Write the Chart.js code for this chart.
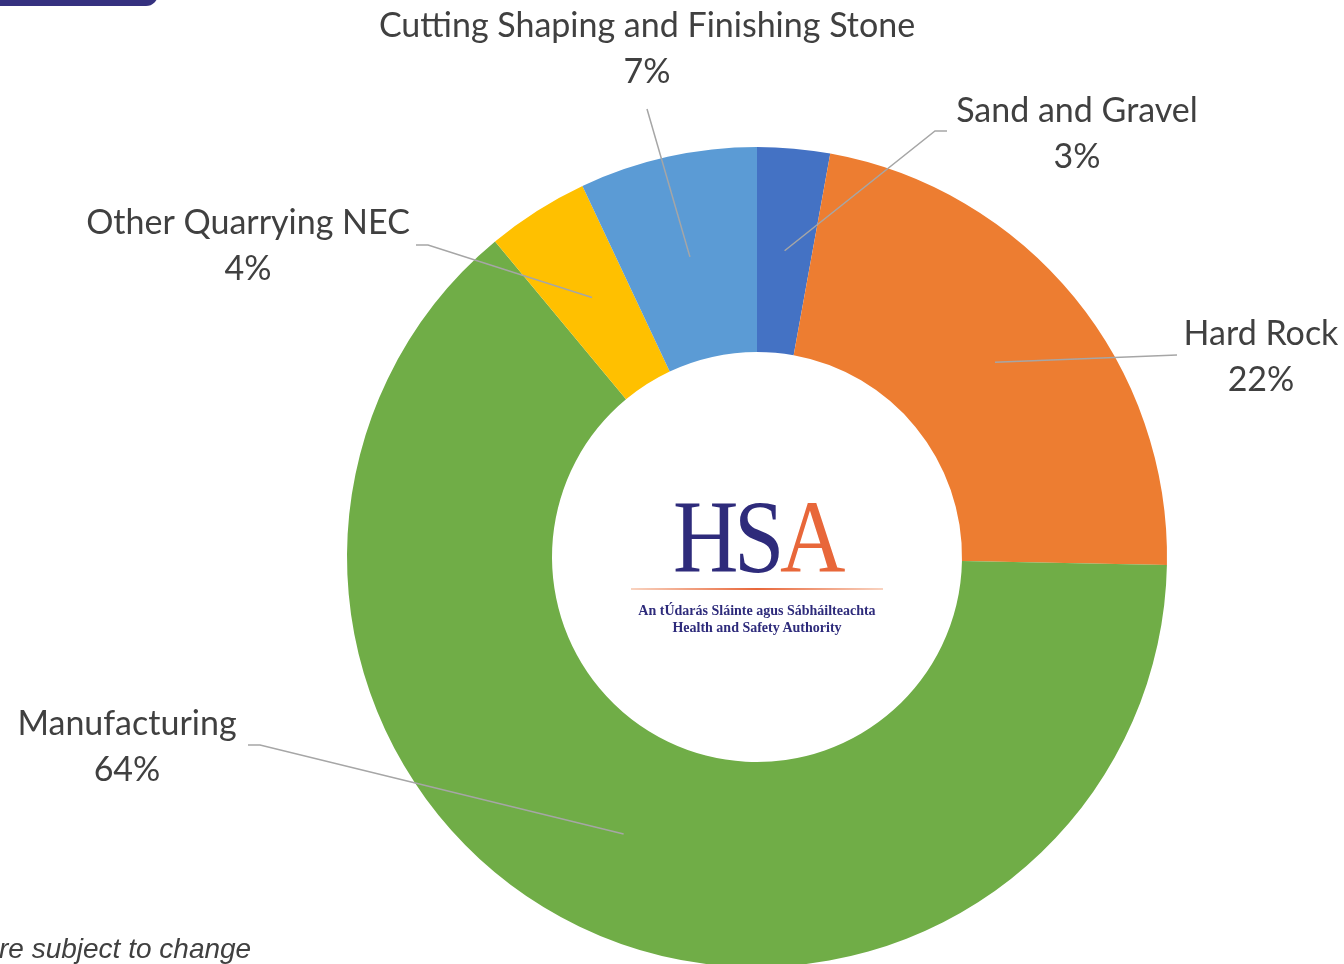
<!DOCTYPE html>
<html>
<head>
<meta charset="utf-8">
<script src="https://cdn.jsdelivr.net/npm/chart.js@4.4.1/dist/chart.umd.min.js"></script>
<style>
  html, body { margin: 0; padding: 0; background: #fff; overflow: hidden; width: 1344px; height: 964px; }
  #wrap { position: absolute; left: 0; top: 0; width: 1344px; height: 980px; }
  #topBar { position: absolute; left: 0; top: -10px; width: 158px; height: 16px; background: #35317f; border-bottom-right-radius: 12px; }
  #note { position: absolute; left: -1px; top: 933px; font: italic 28px "Liberation Sans", Arial, sans-serif; color: #404040; white-space: nowrap; }
  #logo { position: absolute; left: 607px; top: 487px; width: 300px; text-align: center; pointer-events: none; }
  #hsa { font-family: "Liberation Serif", "Times New Roman", serif; font-size: 103px; line-height: 100px; height: 100px; letter-spacing: -5px; transform: scaleX(0.88); color: #2e2b7b; }
  #hsa .a { color: #e8673a; }
  #rule { margin: 1px auto 0 auto; width: 252px; height: 2px; background: linear-gradient(to right, #f9d3c0, #e8673a 50%, #f9d3c0); }
  .sub { font: bold 14px "Liberation Serif", "Times New Roman", serif; color: #2e2b7b; line-height: 17px; }
</style>
</head>
<body>
<div id="topBar"></div>
<div id="wrap"><canvas id="graficoSetores"></canvas></div>
<div id="logo">
  <div id="hsa">HS<span class="a">A</span></div>
  <div id="rule"></div>
  <div class="sub" style="margin-top:12px">An tÚdarás Sláinte agus Sábháilteachta</div>
  <div class="sub">Health and Safety Authority</div>
</div>
<div id="note">re subject to change</div>
<script>
// categorias e valores (percentagens)
const categories = ['Sand and Gravel', 'Hard Rock', 'Manufacturing', 'Other Quarrying NEC', 'Cutting Shaping and Finishing Stone'];
const shares = [2.86, 22.45, 63.66, 4.03, 7.0];
const sliceColours = ['#4472c4', '#ed7d31', '#70ad47', '#ffc000', '#5b9bd5'];

// posição dos rótulos e das linhas de chamada (só layout)
const labelLayout = [
    { x: 1077, y: 122, path: [[935, 131], [947, 131]] },
    { x: 1261, y: 345, path: [[1177, 355]] },
    { x: 127, y: 735, path: [[260, 745], [248, 745]] },
    { x: 248, y: 234, path: [[428, 245], [416, 245]] },
    { x: 647, y: 37, path: [[647, 109]] }
];

const labelFont = '34px Lato, "Open Sans", sans-serif';
const lineGap = 46;

const calloutPlugin = {
    id: 'callouts',
    afterDatasetsDraw(chart) {
        const ctx = chart.ctx;
        const meta = chart.getDatasetMeta(0);
        const total = shares.reduce((a, b) => a + b, 0);
        ctx.save();
        meta.data.forEach(function (arc, i) {
            const lay = labelLayout[i];
            const p = arc.tooltipPosition();
            // linha de chamada
            ctx.beginPath();
            ctx.strokeStyle = '#a6a6a6';
            ctx.lineWidth = 1.5;
            ctx.moveTo(p.x, p.y);
            lay.path.forEach(pt => ctx.lineTo(pt[0], pt[1]));
            ctx.stroke();
            // texto
            ctx.fillStyle = '#404040';
            ctx.font = labelFont;
            ctx.textAlign = 'center';
            ctx.textBaseline = 'alphabetic';
            ctx.fillText(categories[i], lay.x, lay.y);
            ctx.fillText(Math.round(shares[i] / total * 100) + '%', lay.x, lay.y + lineGap);
        });
        ctx.restore();
    }
};

document.addEventListener('DOMContentLoaded', function () {
    const ctxSetores = document.getElementById('graficoSetores');
    new Chart(ctxSetores, {
        type: 'doughnut',
        data: {
            labels: categories,
            datasets: [{
                data: shares,
                backgroundColor: sliceColours,
                borderWidth: 0
            }]
        },
        options: {
            responsive: true,
            maintainAspectRatio: false,
            animation: false,
            cutout: '50%',
            layout: { padding: { top: 147, bottom: 13, left: 347, right: 177 } },
            plugins: {
                legend: { display: false },
                tooltip: { enabled: false }
            }
        },
        plugins: [calloutPlugin]
    });
});
</script>
</body>
</html>
